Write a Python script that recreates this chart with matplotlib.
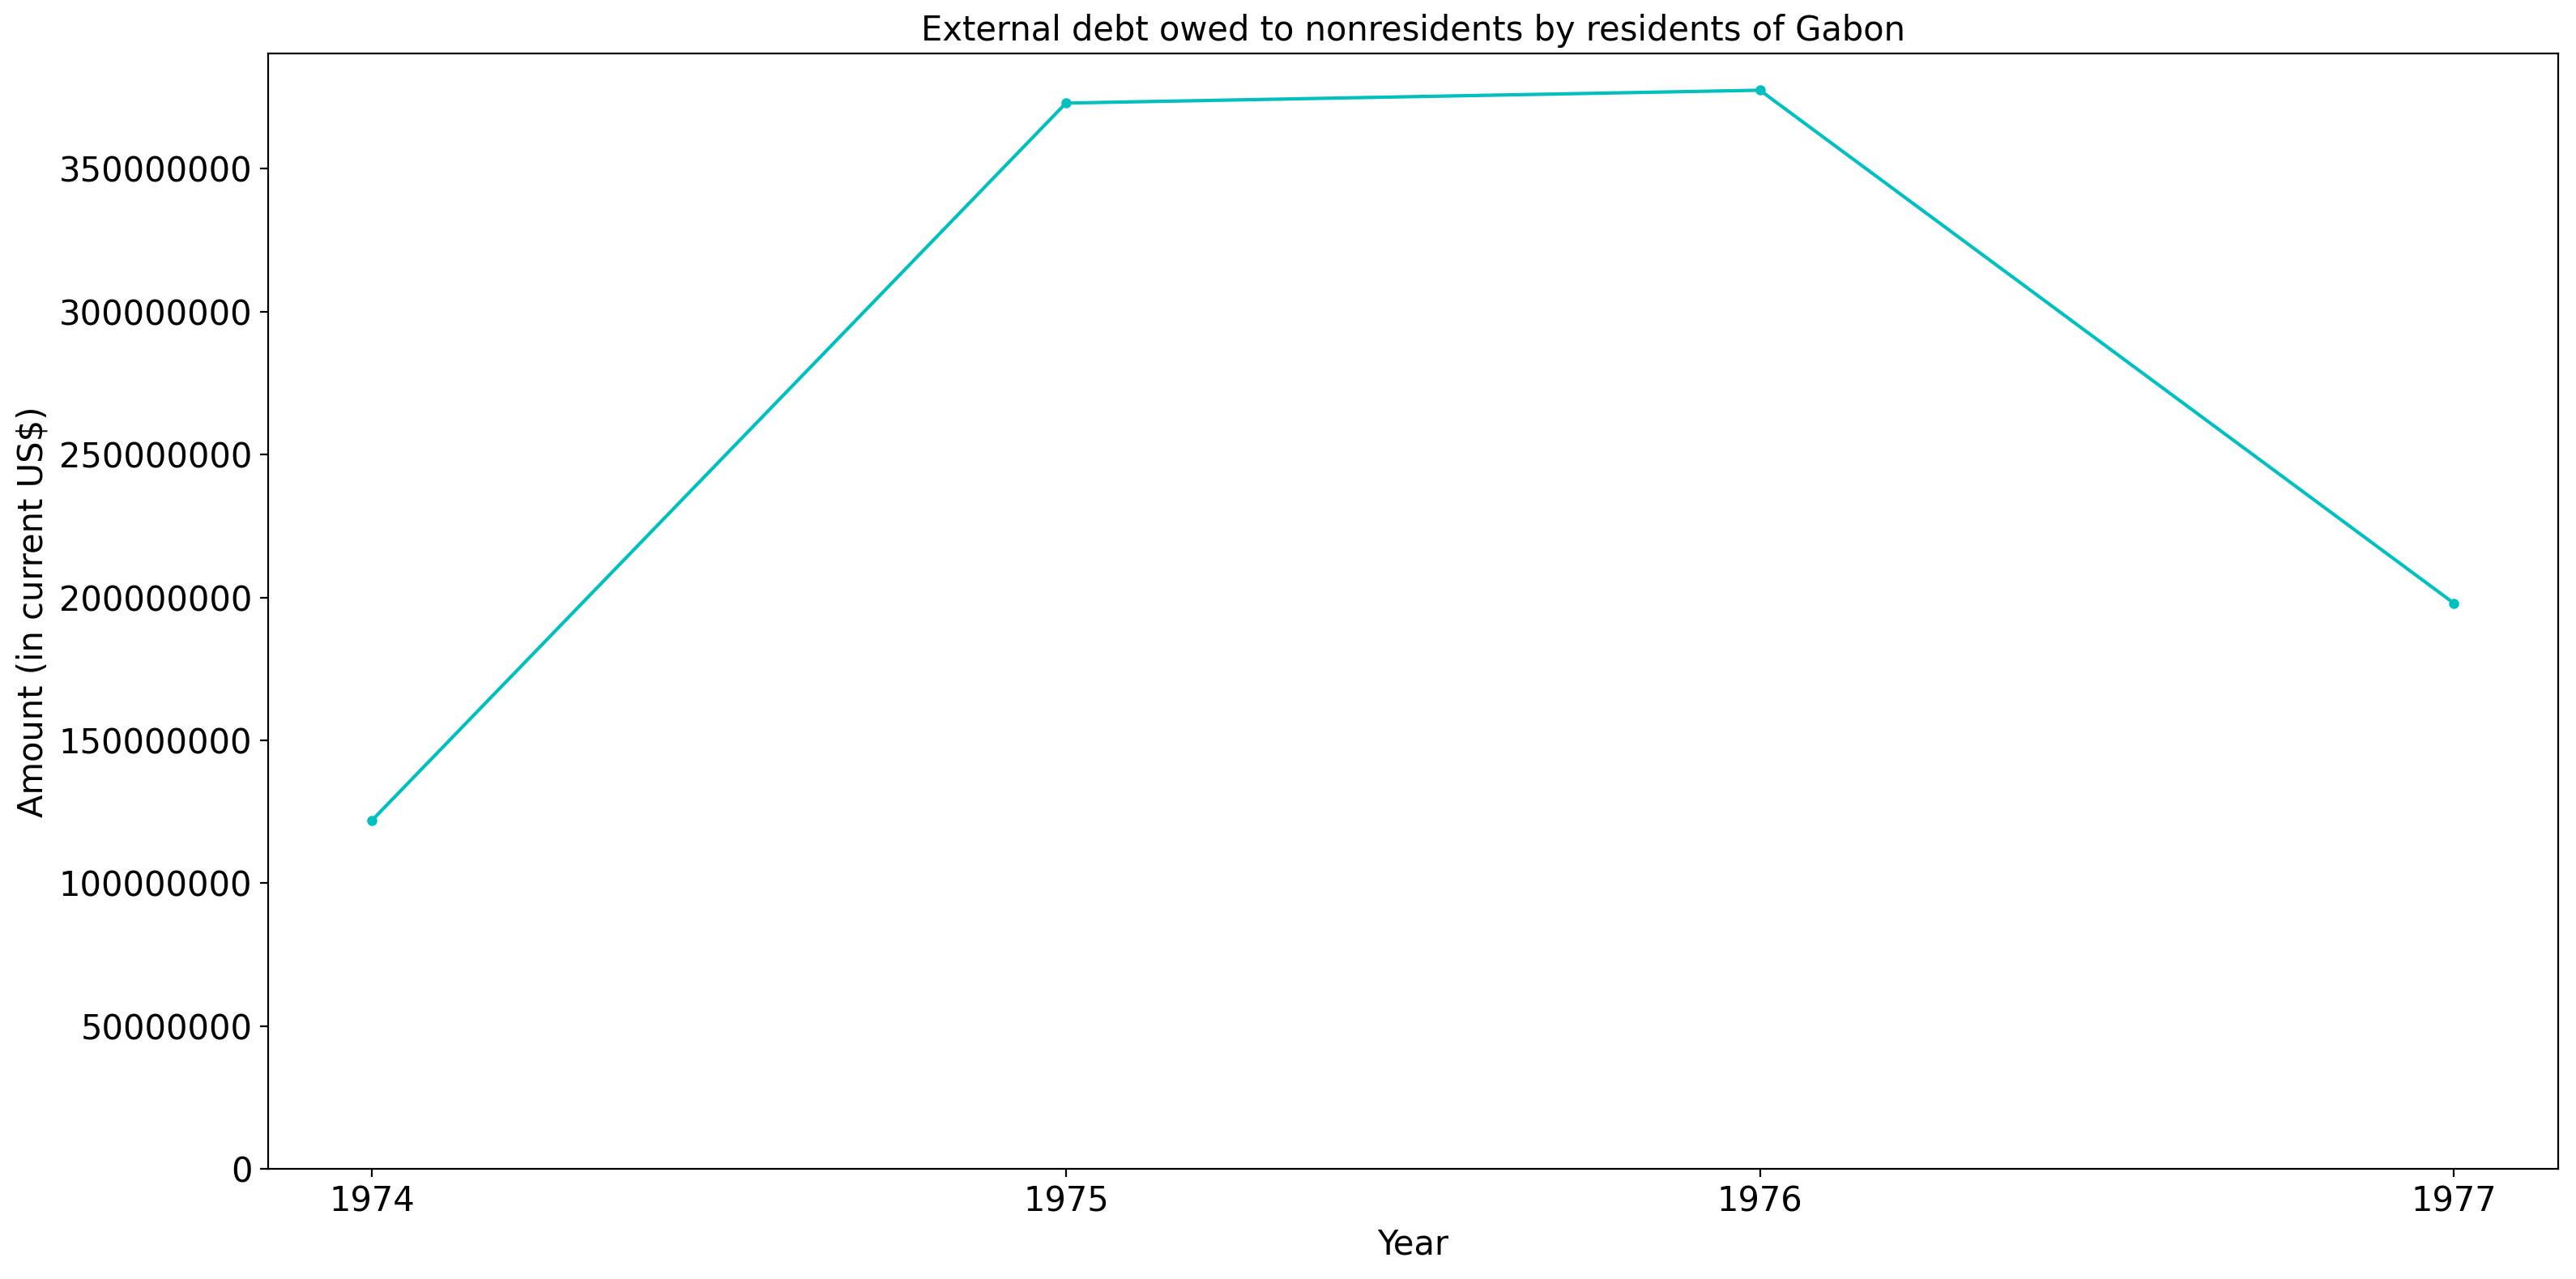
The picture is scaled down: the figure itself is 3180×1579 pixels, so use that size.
import matplotlib
matplotlib.use("Agg")
import matplotlib.pyplot as plt
from matplotlib.ticker import FormatStrFormatter

years = [1974, 1975, 1976, 1977]
debt = [122000000, 373000000, 377500000, 198000000]

fig, ax = plt.subplots(figsize=(15.9, 7.895), dpi=200)
fig.subplots_adjust(left=0.104, right=0.993, top=0.958, bottom=0.086)
ax.plot(years, debt, color="#00bfbf", marker="o", markersize=3.5, linewidth=1.5)
ax.set_xticks(years)
ax.set_ylim(0, None)
ax.yaxis.set_major_formatter(FormatStrFormatter("%d"))
ax.tick_params(labelsize=15)
ax.set_xlabel("Year", fontsize=15)
ax.set_ylabel("Amount (in current US$)", fontsize=15)
ax.set_title("External debt owed to nonresidents by residents of Gabon", fontsize=15)
fig.savefig("out.png", dpi=200)
